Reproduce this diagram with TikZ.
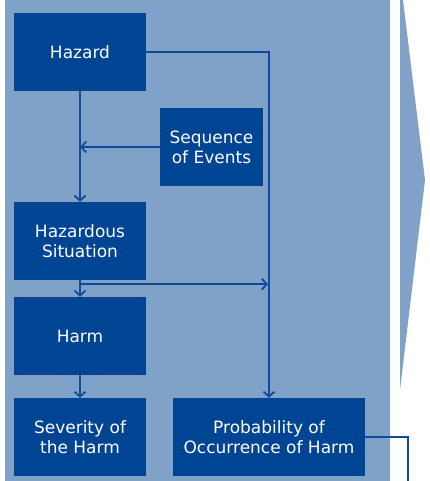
\documentclass[tikz,border=0pt]{standalone}
\usepackage{fontspec}
\setmainfont{DejaVu Sans}
\usepackage{tikz}
\usetikzlibrary{arrows.meta}
\definecolor{panelblue}{RGB}{128,161,200}
\definecolor{boxblue}{RGB}{0,68,148}
\definecolor{lineblue}{RGB}{16,74,156}

\begin{document}
\begin{tikzpicture}[x=1pt,y=-1pt,
  box/.style={fill=boxblue, text=white, align=center, inner sep=0pt,
    minimum width=132pt, minimum height=78pt, font=\fontsize{17}{20}\selectfont},
  link/.style={draw=lineblue, line width=1.8pt,
    -{Straight Barb[length=5pt,width=11pt]}}]
  \useasboundingbox (0,0) rectangle (430,481);
  \fill[panelblue] (5,0) rectangle (390,481);
  \fill[panelblue] (400,0) -- (403,0) -- (425,180) -- (400,390) -- cycle;

  \node[box] (hazard) at (80,52) {Hazard};
  \node[box, minimum width=103pt] (events) at (211.5,147) {Sequence\\of Events};
  \node[box] (situation) at (80,241) {Hazardous\\Situation};
  \node[box] (harm) at (80,336) {Harm};
  \node[box] (severity) at (80,437) {Severity of\\the Harm};
  \node[box, minimum width=192pt] (prob) at (269,437) {Probability of\\Occurrence of Harm};
  \coordinate (out) at (408,481);

  \draw[link] (hazard) -- (situation);
  \draw[link] (events.west) -- (hazard.south |- events.west);
  \draw[link] (hazard.east) -| (prob.north);
  \draw[link] (situation) -- (harm);
  \draw[link] ([yshift=-4pt]situation.south) -- ([yshift=-4pt,xshift=-1pt]situation.south -| prob.north);
  \draw[link] (harm) -- (severity);
  \draw[draw=lineblue, line width=1.5pt] (prob.east) -| (out);
\end{tikzpicture}
\end{document}
